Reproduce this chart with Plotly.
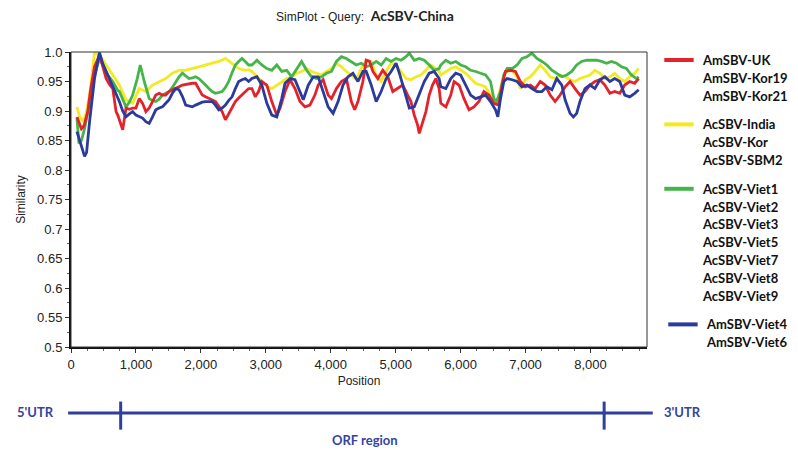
import plotly.graph_objects as go

# ---------------- data ----------------
red_pos = [92,130,160,200,260,300,362,439,490,541,592,643,694,720,760,796,847,900,949,1000,1051,1102,1153,1204,1255,1306,1357,1408,1459,1510,1561,1613,1664,1715,1766,1817,1868,1919,1970,2021,2072,2123,2174,2225,2276,2327,2378,2429,2480,2531,2582,2633,2684,2735,
           2786,2837,2888,2939,3016,3092,3169,3220,3296,3373,3449,3526,3603,3679,3756,3807,3883,3960,4011,4087,4164,4240,4317,4368,4419,4495,4546,4597,4649,4725,4801,4878,4955,5031,5108,5184,5235,5286,5338,5363,5414,5465,5516,5567,5618,5669,
           5695,5772,5848,5899,5976,6052,6129,6205,6282,6358,6435,6511,6588,6639,6690,6767,6843,6920,6996,7073,7149,7226,7302,7379,7455,7532,7609,7685,7762,7838,7915,7991,8068,8144,8221,8298,8374,8451,8527,8604,8680,8742]
red_val = [0.890,0.880,0.870,0.875,0.900,0.935,0.975,0.995,0.975,0.955,0.945,0.938,0.899,0.893,0.880,0.868,0.905,0.903,0.905,0.905,0.921,0.913,0.899,0.905,0.916,0.927,0.930,0.927,0.927,0.933,0.936,0.938,0.941,0.944,0.945,0.947,0.947,0.947,0.938,0.927,0.924,0.921,0.919,0.916,0.908,0.899,0.885,0.896,0.905,0.916,0.922,0.927,0.933,0.938,
           0.938,0.924,0.933,0.950,0.944,0.916,0.893,0.905,0.933,0.953,0.938,0.916,0.907,0.910,0.927,0.944,0.953,0.927,0.921,0.938,0.950,0.955,0.916,0.902,0.916,0.950,0.986,0.984,0.967,0.955,0.969,0.958,0.933,0.938,0.944,0.927,0.916,0.893,0.876,0.862,0.882,0.899,0.927,0.944,0.955,0.938,
           0.913,0.907,0.927,0.950,0.944,0.921,0.902,0.907,0.916,0.933,0.927,0.913,0.910,0.944,0.967,0.969,0.967,0.950,0.941,0.944,0.938,0.950,0.944,0.927,0.916,0.927,0.941,0.950,0.938,0.927,0.933,0.944,0.950,0.953,0.944,0.930,0.933,0.930,0.944,0.950,0.947,0.955]

blue_pos = [92,130,170,209,240,286,362,439,490,541,592,643,694,745,796,847,900,949,1000,1051,1102,1153,1204,1255,1306,1357,1408,1459,1510,1561,1613,1664,1715,1766,1817,1868,1919,1970,2021,2072,2123,2174,2225,2276,2327,2378,2429,2480,2531,2582,2633,2684,2735,
            2786,2863,2939,3016,3092,3169,3245,3296,3373,3449,3526,3577,3654,3730,3807,3883,3960,4036,4113,4189,4266,4342,4419,4495,4546,4623,4700,4776,4853,4929,5006,5057,5133,5210,5286,5363,5440,5516,5593,5669,
            5695,5772,5848,5925,6001,6078,6154,6231,6307,6384,6460,6537,6573,6614,6665,6716,6792,6869,6945,7022,7098,7175,7251,7328,7405,7481,7558,7609,7685,7736,7787,7838,7915,7991,8068,8144,8221,8298,8374,8451,8527,8604,8680,8742]
blue_val = [0.865,0.850,0.835,0.823,0.830,0.882,0.955,0.999,0.980,0.967,0.955,0.944,0.930,0.916,0.900,0.890,0.895,0.899,0.893,0.890,0.888,0.882,0.879,0.890,0.902,0.905,0.907,0.913,0.919,0.930,0.938,0.936,0.925,0.910,0.908,0.907,0.910,0.913,0.915,0.916,0.916,0.916,0.910,0.902,0.905,0.910,0.918,0.924,0.938,0.950,0.953,0.955,0.950,
            0.955,0.958,0.944,0.913,0.893,0.890,0.921,0.947,0.955,0.953,0.933,0.919,0.944,0.958,0.958,0.933,0.907,0.896,0.916,0.944,0.958,0.964,0.950,0.967,0.967,0.944,0.916,0.933,0.955,0.967,0.981,0.964,0.933,0.905,0.907,0.927,0.950,0.964,0.967,0.955,
            0.941,0.938,0.955,0.964,0.961,0.944,0.927,0.921,0.924,0.927,0.916,0.902,0.890,0.921,0.950,0.955,0.953,0.950,0.941,0.944,0.938,0.933,0.933,0.941,0.936,0.955,0.944,0.919,0.896,0.890,0.896,0.916,0.938,0.944,0.938,0.953,0.958,0.950,0.955,0.950,0.927,0.924,0.930,0.936]

green_pos = [92,122,160,209,260,330,362,439,490,566,643,720,745,796,847,900,949,1020,1066,1128,1204,1255,1306,1357,1408,1459,1510,1561,1613,1664,1715,1766,1817,1868,1919,1970,2021,2072,2123,2174,2225,2276,2327,2378,2429,2480,2531,2582,2633,2684,2735,
             2786,2863,2939,3016,3092,3169,3245,3322,3398,3475,3551,3628,3705,3781,3858,3934,4011,4087,4164,4240,4317,4393,4470,4546,4623,4700,4776,4853,4929,5006,5082,5159,5210,5286,5363,5440,5516,5593,5669,
             5695,5772,5848,5925,6001,6078,6154,6231,6307,6384,6460,6511,6552,6614,6665,6716,6792,6869,6945,7022,7098,7175,7251,7328,7405,7481,7558,7634,7711,7787,7864,7940,8017,8093,8170,8247,8323,8400,8476,8553,8629,8706,8742]
green_val = [0.888,0.845,0.850,0.870,0.899,0.940,0.961,0.989,0.978,0.961,0.950,0.935,0.933,0.920,0.907,0.915,0.927,0.955,0.978,0.950,0.921,0.918,0.916,0.920,0.927,0.930,0.933,0.940,0.950,0.958,0.964,0.960,0.955,0.956,0.958,0.955,0.950,0.944,0.938,0.933,0.930,0.932,0.933,0.940,0.950,0.965,0.978,0.984,0.989,0.984,0.978,
             0.978,0.986,0.978,0.972,0.969,0.978,0.967,0.969,0.958,0.972,0.984,0.969,0.958,0.955,0.958,0.964,0.967,0.984,0.992,0.989,0.984,0.978,0.981,0.975,0.978,0.984,0.978,0.989,0.984,0.989,0.986,0.992,0.998,0.986,0.989,0.986,0.978,0.969,0.972,
             0.978,0.986,0.981,0.984,0.978,0.975,0.969,0.967,0.964,0.961,0.950,0.921,0.916,0.933,0.961,0.972,0.972,0.978,0.989,0.992,0.998,0.989,0.984,0.978,0.969,0.964,0.958,0.961,0.967,0.978,0.984,0.986,0.986,0.986,0.984,0.981,0.984,0.981,0.975,0.972,0.961,0.955,0.958]

yellow_pos = [92,133,184,230,286,362,439,541,643,745,847,949,1051,1153,1255,1357,1459,1561,1664,1766,1868,1970,2072,2174,2276,2378,2480,2582,2684,2735,
              2786,2863,2939,3016,3092,3169,3245,3322,3398,3475,3551,3628,3705,3781,3858,3934,4011,4087,4164,4240,4317,4393,4470,4546,4623,4700,4776,4853,4929,5006,5082,5159,5235,5312,5389,5465,5542,5618,5669,
              5695,5772,5848,5925,6001,6078,6154,6231,6307,6384,6460,6511,6563,6614,6665,6716,6792,6869,6920,6996,7073,7149,7226,7302,7379,7455,7532,7609,7685,7762,7838,7915,7991,8068,8144,8221,8298,8374,8451,8527,8604,8680,8742]
yellow_val = [0.907,0.890,0.882,0.895,0.927,0.998,0.995,0.978,0.961,0.944,0.919,0.913,0.938,0.933,0.944,0.950,0.955,0.964,0.969,0.969,0.972,0.975,0.978,0.981,0.984,0.989,0.981,0.972,0.969,0.970,
              0.967,0.958,0.950,0.941,0.938,0.944,0.950,0.955,0.958,0.964,0.967,0.972,0.967,0.964,0.961,0.967,0.972,0.981,0.975,0.967,0.961,0.953,0.972,0.986,0.984,0.961,0.950,0.967,0.981,0.978,0.967,0.955,0.953,0.958,0.961,0.969,0.978,0.972,0.967,
              0.961,0.967,0.972,0.975,0.969,0.964,0.955,0.947,0.944,0.941,0.927,0.916,0.916,0.938,0.961,0.967,0.969,0.958,0.938,0.953,0.958,0.967,0.978,0.969,0.958,0.955,0.961,0.958,0.953,0.950,0.955,0.958,0.961,0.969,0.964,0.955,0.958,0.964,0.955,0.950,0.958,0.964,0.972]

groups = [
    ("red", "#e3232b", ["AmSBV-UK", "AmSBV-Kor19", "AmSBV-Kor21"]),
    ("yellow", "#f3ea22", ["AcSBV-India", "AcSBV-Kor", "AcSBV-SBM2"]),
    ("green", "#45b549", ["AcSBV-Viet1", "AcSBV-Viet2", "AcSBV-Viet3", "AcSBV-Viet5", "AcSBV-Viet7", "AcSBV-Viet8", "AcSBV-Viet9"]),
    ("blue", "#2b3b9c", ["AmSBV-Viet4", "AmSBV-Viet6"]),
]

y_ticks = [0.5, 0.55, 0.6, 0.65, 0.7, 0.75, 0.8, 0.85, 0.9, 0.95, 1.0]
y_ticktext = ["0.5", "0.55", "0.6", "0.65", "0.7", "0.75", "0.8", "0.85", "0.9", "0.95", "1.0"]
x_ticks = [0, 1000, 2000, 3000, 4000, 5000, 6000, 7000, 8000]
x_ticktext = ["0", "1,000", "2,000", "3,000", "4,000", "5,000", "6,000", "7,000", "8,000"]

utr5_end = 765
utr3_start = 8210
query_name = "AcSBV-China"

# ---------------- figure ----------------
series = {"red": (red_pos, red_val), "yellow": (yellow_pos, yellow_val),
          "green": (green_pos, green_val), "blue": (blue_pos, blue_val)}
colors = {g[0]: g[1] for g in groups}

fig = go.Figure()
for key in ["yellow", "green", "red", "blue"]:
    xs, ys = series[key]
    fig.add_trace(go.Scatter(x=xs, y=ys, mode="lines", showlegend=False,
                             line=dict(color=colors[key], width=2.8)))

axis_font = dict(family="Arial, Liberation Sans, sans-serif", size=13, color="#222")
title_font = dict(family="Arial, Liberation Sans, sans-serif", size=12, color="#222")
# the page body has an 8px margin, so the figure is 8px smaller than the window
fig.update_layout(
    width=790, height=442,
    margin=dict(l=60, r=151, t=44, b=103),
    paper_bgcolor="white", plot_bgcolor="white",
    showlegend=False,
    xaxis=dict(range=[0, 8870], tickvals=x_ticks, ticktext=x_ticktext,
               showgrid=False, zeroline=False, showline=True, linecolor="#111", linewidth=2,
               ticks="outside", ticklen=4, tickcolor="#333", tickfont=axis_font,
               minor=dict(dtick=250, ticks="outside", ticklen=2, tickcolor="#666"),
               title=dict(text="Position", font=title_font, standoff=6)),
    yaxis=dict(range=[0.5, 1.0], tickvals=y_ticks, ticktext=y_ticktext,
               showgrid=False, zeroline=False, showline=True, linecolor="#111", linewidth=2,
               ticks="outside", ticklen=4, tickcolor="#333", tickfont=axis_font,
               minor=dict(tickvals=[0.525 + 0.05 * i for i in range(10)], ticks="outside", ticklen=2, tickcolor="#666"),
               title=dict(text="Similarity", font=title_font, standoff=9)),
)

# frame (thin top/right)
fig.add_shape(type="rect", xref="paper", yref="paper", x0=0, x1=1, y0=0, y1=1,
              line=dict(color="#333", width=1), layer="above")

# title
fig.add_annotation(xref="paper", yref="paper", x=0.51, y=1.0, yshift=37, yanchor="middle", showarrow=False,
                   text="SimPlot - Query:  <b><span style='font-family:Lato;font-size:14px'>" + query_name + "</span></b>",
                   font=dict(family="Arial, Liberation Sans, sans-serif", size=12, color="#222"))

# legend (custom)
leg_font = dict(family="Lato, Open Sans, sans-serif", size=13, color="#111")
line_h = 17.8 / 295.0
y_cur = (347 - 60) / 295.0
gap = 11.0 / 295.0
for key, col, names in groups:
    xshift = 4 if key == "blue" else 0
    fig.add_shape(type="line", xref="paper", yref="paper",
                  x0=1.03 + xshift / 579, x1=1.081 + xshift / 579, y0=y_cur, y1=y_cur,
                  line=dict(color=col, width=4))
    for i, nm in enumerate(names):
        fig.add_annotation(xref="paper", yref="paper", x=1.092 + xshift / 579, y=y_cur - i * line_h,
                           xanchor="left", yanchor="middle", showarrow=False,
                           text="<b>" + nm + "</b>", font=leg_font)
    y_cur = y_cur - len(names) * line_h - gap

# genome map below
gcol = "#2e3f9e"
fig.add_shape(type="line", xref="paper", yref="paper", x0=-0.005, x1=1.01, y0=-0.224, y1=-0.224,
              line=dict(color=gcol, width=3))
for xv in [utr5_end, utr3_start]:
    fig.add_shape(type="line", xref="x", yref="paper", x0=xv, x1=xv, y0=-0.185, y1=-0.28,
                  line=dict(color=gcol, width=3))
gfont = dict(family="Lato, Open Sans, sans-serif", size=13, color="#34449f")
fig.add_annotation(xref="paper", yref="paper", x=-0.097, y=-0.222, xanchor="left", yanchor="middle",
                   showarrow=False, text="<b>5'UTR</b>", font=gfont)
fig.add_annotation(xref="paper", yref="paper", x=1.026, y=-0.222, xanchor="left", yanchor="middle",
                   showarrow=False, text="<b>3'UTR</b>", font=gfont)
fig.add_annotation(xref="paper", yref="paper", x=0.51, y=-0.315, xanchor="center", yanchor="middle",
                   showarrow=False, text="<b>ORF region</b>", font=gfont)

fig.write_html("out.html")
